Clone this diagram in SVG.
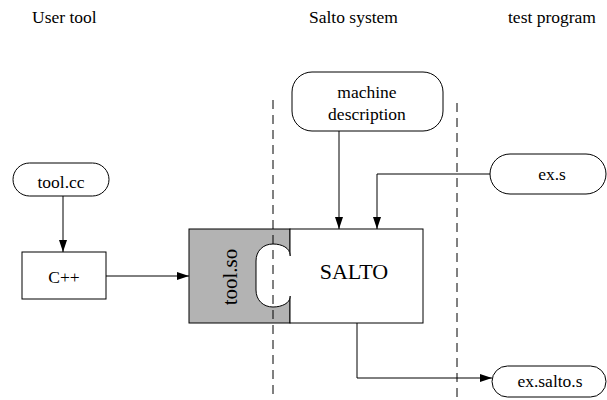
<svg xmlns="http://www.w3.org/2000/svg" width="607" height="400" viewBox="0 0 607 400">
<style>
text{font-family:"Liberation Serif","Times New Roman",serif;fill:#000}
.t{font-size:17.5px}
.n{font-size:17.5px;text-anchor:middle}
.box{fill:#fff;stroke:#000;stroke-width:1}
.c{fill:none;stroke:#000;stroke-width:1}
.d{fill:none;stroke:#000;stroke-width:1;stroke-dasharray:9,6}
</style>
<defs>
<marker id="ah" markerWidth="12" markerHeight="10" refX="12" refY="5" orient="auto" markerUnits="userSpaceOnUse">
<path d="M0,1 L12,5 L0,9 Z" fill="#000"/>
</marker>
</defs>
<g id="headers">
<text class="t" x="32" y="23">User tool</text>
<text class="t" x="309" y="23">Salto system</text>
<text class="t" x="508" y="23">test program</text>
</g>
<g id="machine-description">
<rect class="box" x="292" y="72" width="151" height="59" rx="20"/>
<text class="n" x="367" y="98">machine</text>
<text class="n" x="367" y="120">description</text>
</g>
<g id="ex-s">
<rect class="box" x="490" y="154" width="116" height="40" rx="20"/>
<text class="n" x="552" y="180">ex.s</text>
</g>
<g id="tool-cc">
<rect class="box" x="13" y="163" width="96" height="33" rx="16.5"/>
<text class="n" x="61" y="188">tool.cc</text>
</g>
<g id="cpp">
<rect class="box" x="22" y="252" width="84" height="47"/>
<text class="n" x="64" y="283">C++</text>
</g>
<g id="salto">
<rect x="189" y="229" width="101" height="94" fill="#b3b3b3" stroke="#000"/>
<rect x="290" y="229" width="133" height="94" fill="#fff" stroke="#000"/>
<path d="M290,255 C290,248 282,244 273,244 C263,244 256,251 256,261 L256,290 C256,300 263,307 273,307 C282,307 290,303 290,297 Z" fill="#fff" stroke="#000"/>
<line x1="290" y1="256" x2="290" y2="296" stroke="#fff" stroke-width="2"/>
<text x="354" y="279" font-size="22" text-anchor="middle">SALTO</text>
<text x="0" y="0" font-size="21" text-anchor="middle" transform="translate(237,277) rotate(-90)">tool.so</text>
</g>
<g id="ex-salto-s">
<rect class="box" x="492" y="366" width="114" height="31" rx="15.5"/>
<text class="n" x="550" y="387">ex.salto.s</text>
</g>
<g id="connectors">
<path class="c" d="M339,131 V229" marker-end="url(#ah)"/>
<path class="c" d="M490,174 H377 V229" marker-end="url(#ah)"/>
<path class="c" d="M63,196 V252" marker-end="url(#ah)"/>
<path class="c" d="M106,276 H189" marker-end="url(#ah)"/>
<path class="c" d="M357,323 V378 H492" marker-end="url(#ah)"/>
</g>
<g id="dividers">
<line class="d" x1="273" y1="100" x2="273" y2="400"/>
<line class="d" x1="457" y1="103" x2="457" y2="400"/>
</g>
</svg>
